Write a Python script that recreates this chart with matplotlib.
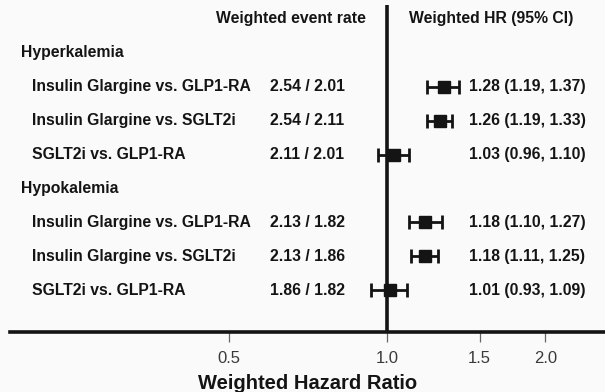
import matplotlib.pyplot as plt
import matplotlib.transforms as mtransforms

plt.rcParams['font.family'] = ['Liberation Sans', 'DejaVu Sans']

# rows of the forest plot
groups = ['Hyperkalemia', 'Hypokalemia']
comparisons = ['Insulin Glargine vs. GLP1-RA', 'Insulin Glargine vs. SGLT2i', 'SGLT2i vs. GLP1-RA']
event_rates = ['2.54 / 2.01', '2.54 / 2.11', '2.11 / 2.01',
               '2.13 / 1.82', '2.13 / 1.86', '1.86 / 1.82']
hr = [1.28, 1.26, 1.03, 1.18, 1.18, 1.01]
lo = [1.19, 1.19, 0.96, 1.10, 1.11, 0.93]
hi = [1.37, 1.33, 1.10, 1.27, 1.25, 1.09]
xticks = [0.5, 1.0, 1.5, 2.0]

fig = plt.figure(figsize=(6.05, 3.92), dpi=100, facecolor='#fafafa')
# axes spans the axis line: x 10..605 px, y 5..332 px from the top
ax = fig.add_axes([10 / 605, 60 / 392, 595 / 605, 327 / 392])
ax.set_facecolor('none')
ax.set_xscale('log')
ax.set_xlim(0.191, 2.60)
ax.set_ylim(9.23, -0.41)

# row positions: header 0, group title, then its comparisons
ypos = []
group_y = []
i = 1
for g in groups:
    group_y.append(i)
    i += 1
    for c in comparisons:
        ypos.append(i)
        i += 1

dark = '#141414'
ax.axvline(1.0, color=dark, lw=2.6, zorder=1)
err_lo = [h - l for h, l in zip(hr, lo)]
err_hi = [u - h for h, u in zip(hr, hi)]
ax.errorbar(hr, ypos, xerr=[err_lo, err_hi], fmt='s', color=dark, ms=8.5,
            elinewidth=2, capsize=5, capthick=2, zorder=3)

for s in ['top', 'right', 'left']:
    ax.spines[s].set_visible(False)
ax.spines['bottom'].set_linewidth(2.6)
ax.spines['bottom'].set_color(dark)
ax.set_yticks([])
ax.set_xticks(xticks)
ax.set_xticklabels([f'{t:.1f}' for t in xticks])
ax.xaxis.set_minor_locator(plt.NullLocator())
ax.tick_params(axis='x', direction='out', length=7, width=0.9, color='#666666',
               labelsize=12, labelcolor='#3a3a3a', pad=7)
ax.set_xlabel('Weighted Hazard Ratio', fontsize=14.5, fontweight='bold', color=dark)
ax.xaxis.set_label_coords((308 - 10) / 595, -0.128)

# text columns: x in figure pixels, y in data rows
tr = mtransforms.blended_transform_factory(fig.transFigure, ax.transData)
fs = 11.3
def px(x):
    return x / 605

ax.text(px(366), 0, 'Weighted event rate', transform=tr, ha='right', va='center',
        fontsize=fs, fontweight='bold', color=dark)
ax.text(px(409), 0, 'Weighted HR (95% CI)', transform=tr, ha='left', va='center',
        fontsize=fs, fontweight='bold', color=dark)
for g, y in zip(groups, group_y):
    ax.text(px(21), y, g, transform=tr, ha='left', va='center',
            fontsize=fs, fontweight='bold', color=dark)
for k, y in enumerate(ypos):
    ax.text(px(32), y, comparisons[k % 3], transform=tr, ha='left', va='center',
            fontsize=fs, fontweight='bold', color=dark)
    ax.text(px(270), y, event_rates[k], transform=tr, ha='left', va='center',
            fontsize=fs, fontweight='bold', color=dark)
    ax.text(px(469), y, f'{hr[k]:.2f} ({lo[k]:.2f}, {hi[k]:.2f})', transform=tr,
            ha='left', va='center', fontsize=fs, fontweight='bold', color=dark)

fig.savefig('out.png', dpi=100, facecolor=fig.get_facecolor())
